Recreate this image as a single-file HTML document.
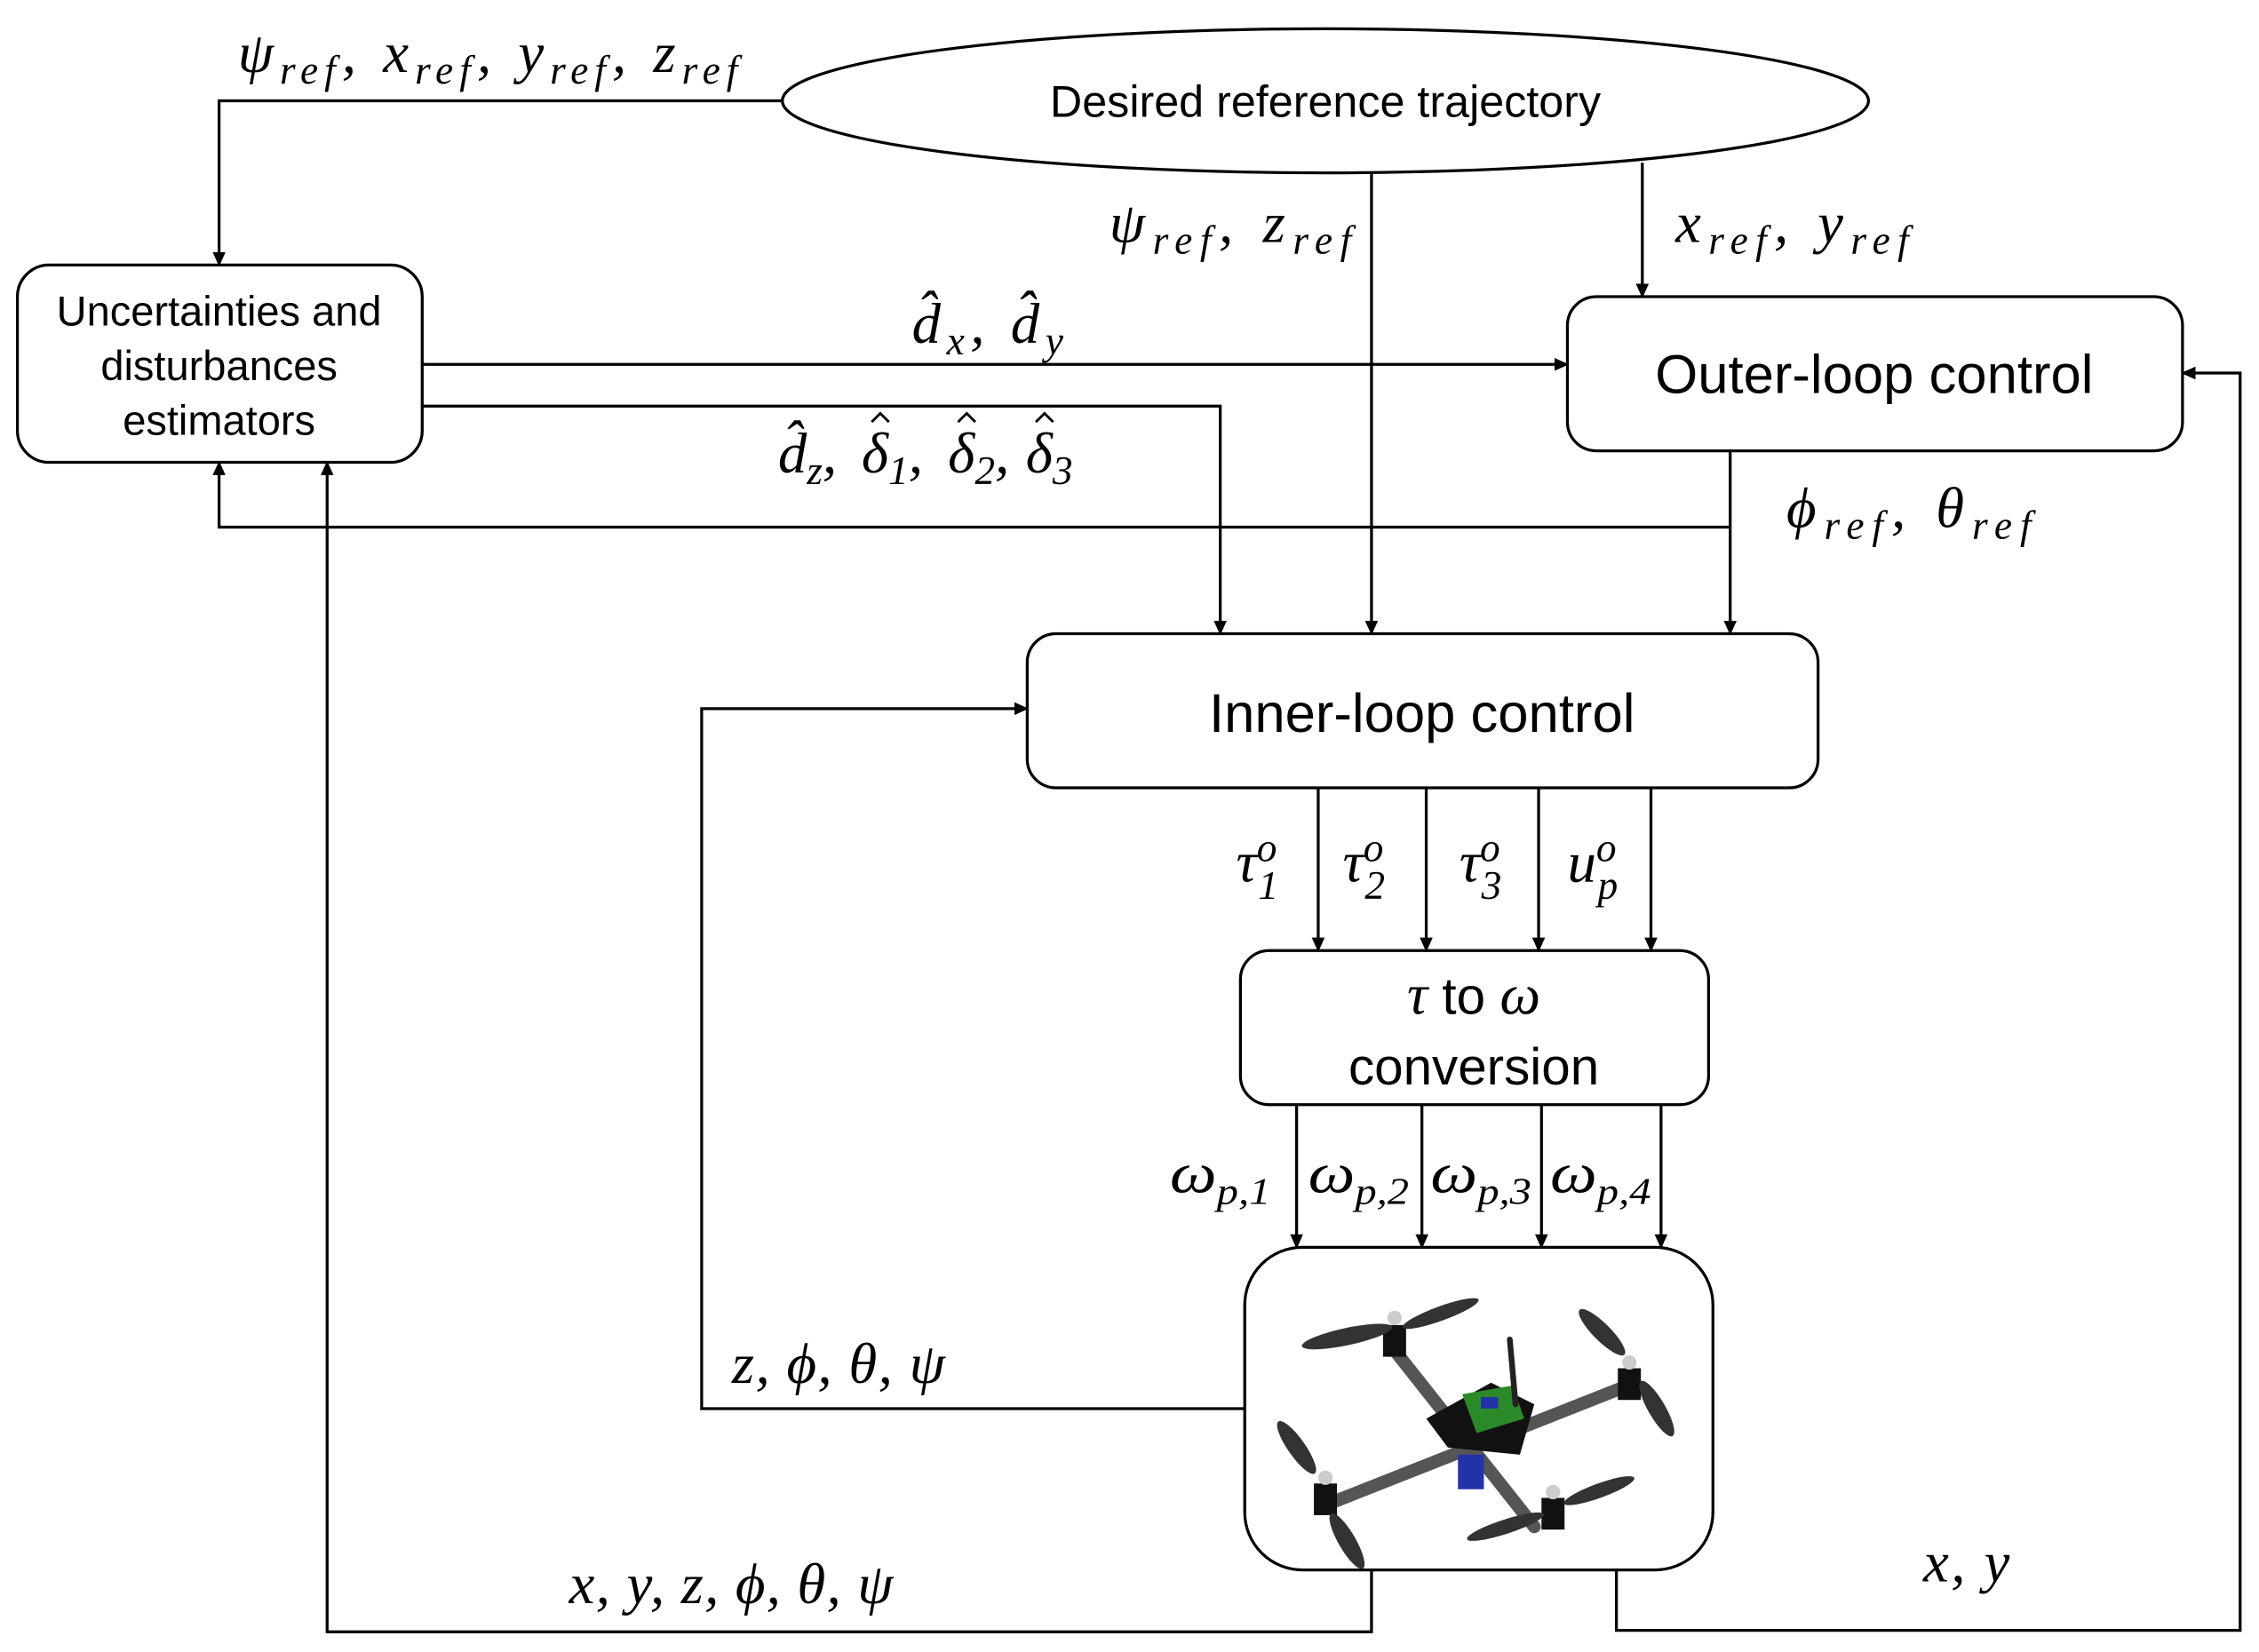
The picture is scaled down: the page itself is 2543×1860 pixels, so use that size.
<!DOCTYPE html>
<html><head><meta charset="utf-8"><style>
html,body{margin:0;padding:0;background:#fff}
svg{display:block}
.m{font-family:"Liberation Serif",serif;font-style:italic;font-size:40px;fill:#000}
.s{font-family:"Liberation Sans",sans-serif;fill:#000}
</style></head><body>
<svg width="2543" height="1860" viewBox="0 0 1568 1147" xmlns="http://www.w3.org/2000/svg">
<defs><marker id="a" markerWidth="10" markerHeight="10" refX="9" refY="5" orient="auto" markerUnits="userSpaceOnUse"><path d="M0,0.5 L10,5 L0,9.5 z" fill="#000"/></marker></defs>
<g fill="none" stroke="#000" stroke-width="2">
<ellipse cx="920" cy="70" rx="377" ry="50"/>
<rect x="12" y="184" width="281" height="137" rx="22"/>
<rect x="1088" y="206" width="427" height="107" rx="20"/>
<rect x="713" y="440" width="549" height="107" rx="20"/>
<rect x="861" y="660" width="325" height="107" rx="20"/>
<rect x="864" y="866" width="325" height="224" rx="40"/>
<g marker-end="url(#a)">
<path d="M543,70 H152 V184"/>
<path d="M952,120 V440"/>
<path d="M1140,113 V206"/>
<path d="M293,253 H1088"/>
<path d="M293,282 H847 V440"/>
<path d="M1201,313 V440"/>
<path d="M1201,366 H152 V321"/>
<path d="M915,547 V660"/><path d="M990,547 V660"/><path d="M1068,547 V660"/><path d="M1146,547 V660"/>
<path d="M900,767 V866"/><path d="M987,767 V866"/><path d="M1070,767 V866"/><path d="M1153,767 V866"/>
<path d="M864,978 H487 V492 H713"/>
<path d="M952,1090 V1133 H227 V321"/>
<path d="M1122,1090 V1132 H1555 V259 H1515"/>
</g>
<path d="M605,293 l6,-6 l6,6 M665,293 l6,-6 l6,6 M719,293 l6,-6 l6,6" stroke-width="1.8"/>
</g>
<text x="920" y="81" text-anchor="middle" class="s" font-size="31">Desired reference trajectory</text>
<text x="152" y="226" text-anchor="middle" class="s" font-size="29">Uncertainties and</text>
<text x="152" y="264" text-anchor="middle" class="s" font-size="29">disturbances</text>
<text x="152" y="302" text-anchor="middle" class="s" font-size="29">estimators</text>
<text x="1301" y="273" text-anchor="middle" class="s" font-size="38">Outer-loop control</text>
<text x="987" y="508" text-anchor="middle" class="s" font-size="38">Inner-loop control</text>
<text x="1023" y="704" text-anchor="middle" class="s" font-size="36"><tspan class="m" font-size="36">τ</tspan> to <tspan class="m" font-size="36">ω</tspan></text>
<text x="1023" y="753" text-anchor="middle" class="s" font-size="36">conversion</text>
<text x="165" y="50" class="m" textLength="347" lengthAdjust="spacing">ψ<tspan font-size="28" dy="8">ref</tspan><tspan dy="-8">, x</tspan><tspan font-size="28" dy="8">ref</tspan><tspan dy="-8">, y</tspan><tspan font-size="28" dy="8">ref</tspan><tspan dy="-8">, z</tspan><tspan font-size="28" dy="8">ref</tspan></text>
<text x="770" y="168" class="m" textLength="168" lengthAdjust="spacing">ψ<tspan font-size="28" dy="8">ref</tspan><tspan dy="-8">, z</tspan><tspan font-size="28" dy="8">ref</tspan></text>
<text x="1163" y="168" class="m" textLength="162" lengthAdjust="spacing">x<tspan font-size="28" dy="8">ref</tspan><tspan dy="-8">, y</tspan><tspan font-size="28" dy="8">ref</tspan></text>
<text x="633" y="238" class="m" textLength="105" lengthAdjust="spacing">d̂<tspan font-size="28" dy="8">x</tspan><tspan dy="-8">, d̂</tspan><tspan font-size="28" dy="8">y</tspan></text>
<text x="540" y="328" class="m">d̂<tspan font-size="28" dy="8">z</tspan><tspan dy="-8">,</tspan></text>
<text x="598" y="328" class="m">δ<tspan font-size="28" dy="8">1</tspan><tspan dy="-8">,</tspan></text>
<text x="658" y="328" class="m">δ<tspan font-size="28" dy="8">2</tspan><tspan dy="-8">,</tspan></text>
<text x="712" y="328" class="m">δ<tspan font-size="28" dy="8">3</tspan></text>
<text x="1240" y="366" class="m" textLength="170" lengthAdjust="spacing">ϕ<tspan font-size="28" dy="8">ref</tspan><tspan dy="-8">, θ</tspan><tspan font-size="28" dy="8">ref</tspan></text>
<text x="858" y="612" class="m">τ<tspan font-size="28" dy="-14">o</tspan><tspan font-size="28" dx="-13" dy="26">1</tspan></text>
<text x="932" y="612" class="m">τ<tspan font-size="28" dy="-14">o</tspan><tspan font-size="28" dx="-13" dy="26">2</tspan></text>
<text x="1013" y="612" class="m">τ<tspan font-size="28" dy="-14">o</tspan><tspan font-size="28" dx="-13" dy="26">3</tspan></text>
<text x="1088" y="612" class="m">u<tspan font-size="28" dy="-14">o</tspan><tspan font-size="28" dx="-13" dy="26">p</tspan></text>
<text x="812" y="828" class="m" textLength="70" lengthAdjust="spacingAndGlyphs">ω<tspan font-size="26" dy="8">p,1</tspan></text>
<text x="908" y="828" class="m" textLength="70" lengthAdjust="spacingAndGlyphs">ω<tspan font-size="26" dy="8">p,2</tspan></text>
<text x="993" y="828" class="m" textLength="70" lengthAdjust="spacingAndGlyphs">ω<tspan font-size="26" dy="8">p,3</tspan></text>
<text x="1076" y="828" class="m" textLength="70" lengthAdjust="spacingAndGlyphs">ω<tspan font-size="26" dy="8">p,4</tspan></text>
<text x="508" y="960" class="m" textLength="148" lengthAdjust="spacing">z, ϕ, θ, ψ</text>
<text x="395" y="1113" class="m" textLength="225" lengthAdjust="spacing">x, y, z, ϕ, θ, ψ</text>
<text x="1335" y="1098" class="m" textLength="60" lengthAdjust="spacing">x, y</text>
<g stroke-linecap="round">
<line x1="966" y1="935" x2="1065" y2="1060" stroke="#555" stroke-width="9"/>
<line x1="920" y1="1045" x2="1130" y2="962" stroke="#555" stroke-width="9"/>
<polygon points="990,985 1035,960 1065,975 1055,1010 1005,1005" fill="#111"/>
<polygon points="1015,968 1050,962 1058,985 1025,995" fill="#2a8a2a"/>
<rect x="1028" y="970" width="12" height="8" fill="#2233aa"/>
<rect x="1012" y="1010" width="18" height="24" fill="#2233aa"/>
<line x1="1048" y1="930" x2="1052" y2="975" stroke="#222" stroke-width="4"/>
<g fill="#111">
<rect x="960" y="920" width="16" height="22"/>
<rect x="1123" y="950" width="16" height="22"/>
<rect x="912" y="1030" width="16" height="22"/>
<rect x="1070" y="1040" width="16" height="22"/>
</g>
<g fill="#333">
<ellipse cx="935" cy="928" rx="32" ry="6" transform="rotate(-12 935 928)"/>
<ellipse cx="1000" cy="912" rx="28" ry="5" transform="rotate(-20 1000 912)"/>
<ellipse cx="1112" cy="925" rx="22" ry="6" transform="rotate(45 1112 925)"/>
<ellipse cx="1150" cy="978" rx="22" ry="6" transform="rotate(60 1150 978)"/>
<ellipse cx="900" cy="1005" rx="22" ry="6" transform="rotate(55 900 1005)"/>
<ellipse cx="935" cy="1070" rx="22" ry="6" transform="rotate(60 935 1070)"/>
<ellipse cx="1045" cy="1060" rx="28" ry="5" transform="rotate(-18 1045 1060)"/>
<ellipse cx="1110" cy="1035" rx="26" ry="5" transform="rotate(-20 1110 1035)"/>
</g>
<g fill="#ccc"><circle cx="968" cy="915" r="5"/><circle cx="1131" cy="946" r="5"/><circle cx="920" cy="1026" r="5"/><circle cx="1078" cy="1036" r="5"/></g>
</g>
</svg>
</body></html>
